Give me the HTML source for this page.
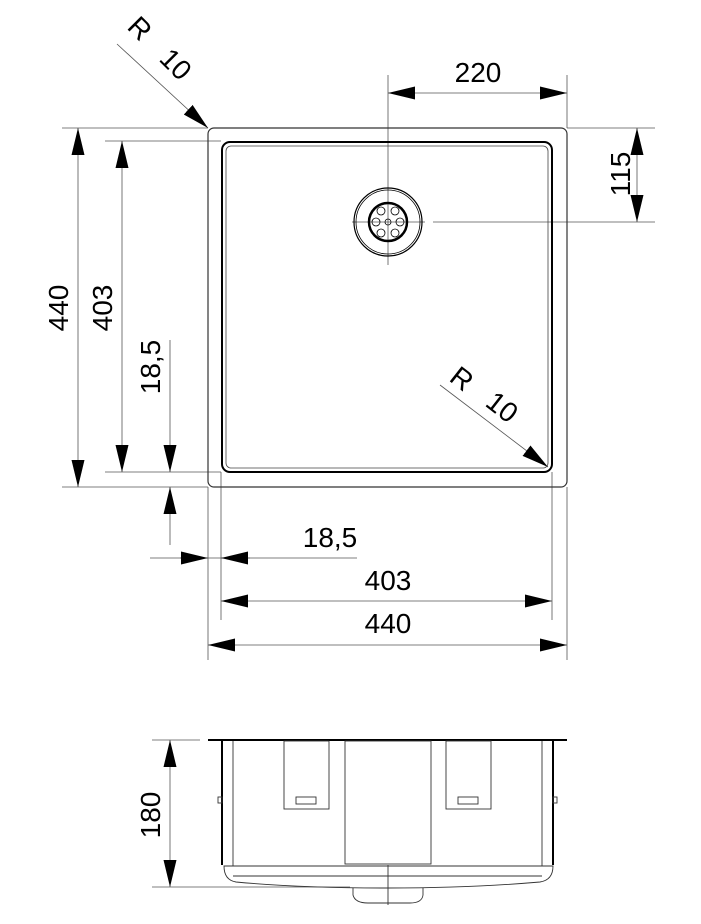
<!DOCTYPE html>
<html><head><style>body{margin:0;background:#fff}svg{display:block}</style></head><body>
<svg width="701" height="924" viewBox="0 0 701 924" xmlns="http://www.w3.org/2000/svg" font-family="Liberation Sans, sans-serif" font-size="28" fill="none" stroke="#000">
<defs>
<marker id="a" viewBox="0 0 10 10" refX="10" refY="5" markerWidth="27" markerHeight="13" markerUnits="userSpaceOnUse" preserveAspectRatio="none" orient="auto-start-reverse"><path d="M0,0 L10,5 L0,10z" fill="#000" stroke="none"/></marker>
</defs>
<g stroke-width="0.8" stroke="#555">
<line x1="62" y1="128" x2="208" y2="128"/>
<line x1="105" y1="141" x2="221" y2="141"/>
<line x1="105" y1="472" x2="221" y2="472"/>
<line x1="62" y1="487" x2="208" y2="487"/>
<line x1="208" y1="487" x2="208" y2="660"/>
<line x1="221" y1="472" x2="221" y2="620"/>
<line x1="552" y1="472" x2="552" y2="620"/>
<line x1="567" y1="487" x2="567" y2="660"/>
<line x1="388" y1="75" x2="388" y2="265"/>
<line x1="567" y1="75" x2="567" y2="128"/>
<line x1="567" y1="128" x2="655" y2="128"/>
<line x1="352" y1="222" x2="425" y2="222"/>
<line x1="433" y1="222" x2="655" y2="222"/>
<line x1="170" y1="515" x2="170" y2="545"/>
<line x1="150" y1="558" x2="357" y2="558"/>
<line x1="388" y1="93" x2="567" y2="93" marker-start="url(#a)" marker-end="url(#a)"/>
<line x1="637" y1="128" x2="637" y2="222" marker-start="url(#a)" marker-end="url(#a)"/>
<line x1="78" y1="128" x2="78" y2="487" marker-start="url(#a)" marker-end="url(#a)"/>
<line x1="122" y1="141" x2="122" y2="472" marker-start="url(#a)" marker-end="url(#a)"/>
<line x1="170" y1="340" x2="170" y2="472" marker-end="url(#a)"/>
<line x1="170" y1="515" x2="170" y2="487" marker-end="url(#a)"/>
<line x1="180" y1="558" x2="208" y2="558" marker-end="url(#a)"/>
<line x1="250" y1="558" x2="221" y2="558" marker-end="url(#a)"/>
<line x1="221" y1="601" x2="552" y2="601" marker-start="url(#a)" marker-end="url(#a)"/>
<line x1="208" y1="645" x2="567" y2="645" marker-start="url(#a)" marker-end="url(#a)"/>
<line x1="117" y1="44" x2="208" y2="128" marker-end="url(#a)"/>
<line x1="440" y1="385" x2="548" y2="467" marker-end="url(#a)"/>
<line x1="170" y1="740" x2="170" y2="887" marker-start="url(#a)" marker-end="url(#a)"/>
<line x1="152" y1="740" x2="200" y2="740"/>
<line x1="152" y1="887" x2="350" y2="887"/>
</g>
<rect x="208" y="128" width="359" height="359" rx="6" stroke-width="1.2" stroke="#333"/>
<rect x="222" y="142" width="330" height="330" rx="8" stroke-width="2"/>
<rect x="226" y="146" width="322" height="322" rx="5" stroke-width="0.8" stroke="#444"/>
<circle cx="388" cy="222" r="34" stroke-width="1.2"/>
<circle cx="388" cy="222" r="32" stroke-width="0.8"/>
<circle cx="388" cy="222" r="19" stroke-width="2.5"/>
<g stroke-width="0.8"><circle cx="388" cy="222" r="3"/><circle cx="381" cy="211" r="4"/><circle cx="395" cy="211" r="4"/><circle cx="376" cy="222" r="4"/><circle cx="400" cy="222" r="4"/><circle cx="381" cy="233" r="4"/><circle cx="395" cy="233" r="4"/></g>
<g fill="#000" stroke="none">
<text x="478" y="82" text-anchor="middle">220</text>
<text transform="translate(630,174) rotate(-90)" text-anchor="middle">115</text>
<text transform="translate(68,308) rotate(-90)" text-anchor="middle">440</text>
<text transform="translate(112,308) rotate(-90)" text-anchor="middle">403</text>
<text transform="translate(160,367) rotate(-90)" text-anchor="middle">18,5</text>
<text x="330" y="547" text-anchor="middle">18,5</text>
<text x="388" y="590" text-anchor="middle">403</text>
<text x="388" y="633" text-anchor="middle">440</text>
<text transform="translate(160,815) rotate(-90)" text-anchor="middle">180</text>
<text transform="translate(126,28) rotate(45)">R</text>
<text transform="translate(158,60) rotate(45)">10</text>
<text transform="translate(448,380) rotate(38)">R</text>
<text transform="translate(484,405) rotate(38)">10</text>
</g>
<line x1="208" y1="740" x2="567" y2="740" stroke-width="2"/>
<line x1="222" y1="740" x2="222" y2="865" stroke-width="2"/>
<line x1="553" y1="740" x2="553" y2="865" stroke-width="2"/>
<g stroke-width="0.9" stroke="#333">
<line x1="233" y1="741" x2="233" y2="866"/>
<line x1="542" y1="741" x2="542" y2="866"/>
<rect x="284" y="741" width="45" height="68"/>
<rect x="446" y="741" width="45" height="68"/>
<rect x="296" y="797" width="20" height="7"/>
<rect x="458" y="797" width="20" height="7"/>
<rect x="345" y="741" width="86" height="123"/>
<rect x="218" y="797" width="4" height="6"/>
<rect x="553" y="797" width="4" height="6"/>
<path d="M224,866 L553,866 Q553,880 540,882 Q470,888 388,888 Q300,888 236,882 Q224,880 224,866Z"/>
<line x1="233" y1="876" x2="542" y2="876"/>
<path d="M353,888 L353,895 Q355,903 368,903 L410,903 Q422,903 423,895 L423,888"/>
<line x1="388" y1="865" x2="388" y2="905"/>
</g>
</svg>
</body></html>
